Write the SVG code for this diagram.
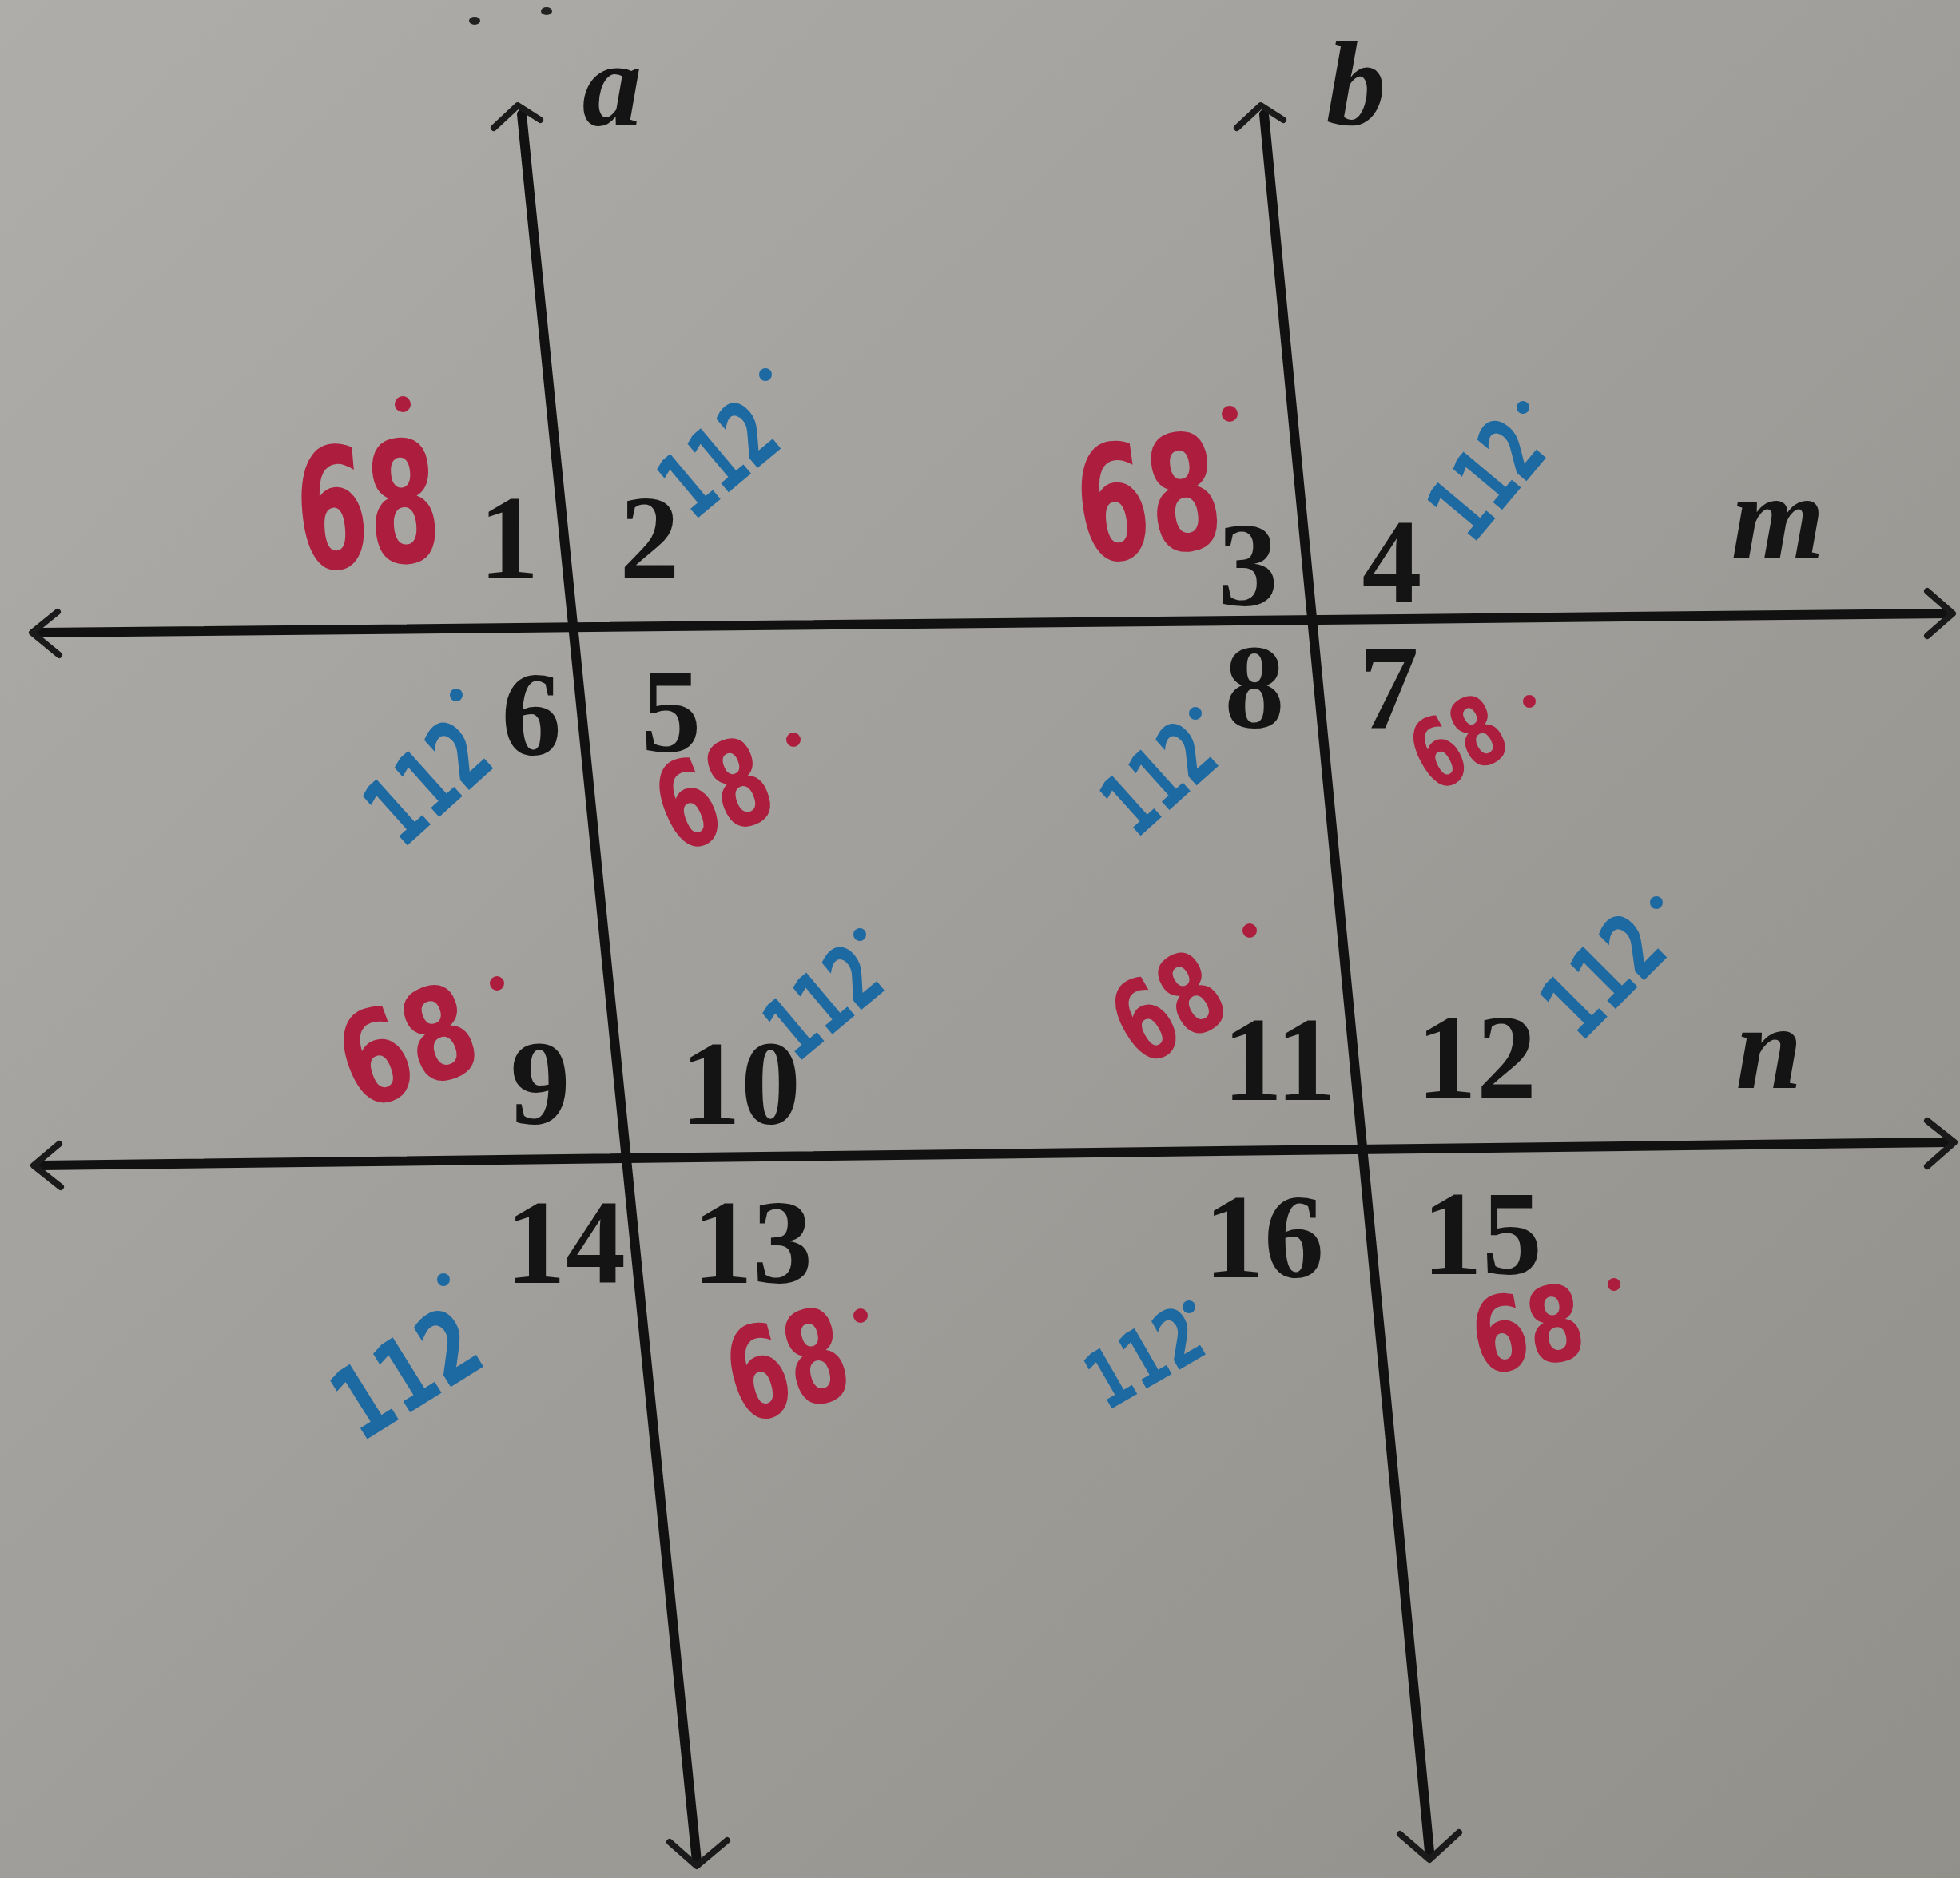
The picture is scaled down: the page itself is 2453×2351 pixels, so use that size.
<svg xmlns="http://www.w3.org/2000/svg" width="2453" height="2351" viewBox="0 0 2453 2351">
<defs>
<linearGradient id="bg" x1="0" y1="0" x2="1" y2="1">
<stop offset="0" stop-color="#afada9"/>
<stop offset="0.5" stop-color="#a09e9a"/>
<stop offset="1" stop-color="#92908b"/>
</linearGradient>
<style>
.ln{stroke:#111;stroke-width:12;fill:none;stroke-linecap:round}
.ah{stroke:#1a1a1a;stroke-width:8;fill:none;stroke-linecap:round;stroke-linejoin:round}
.num{font-family:"Liberation Serif",serif;font-weight:bold;font-size:150px;fill:#141414;text-anchor:middle}
.var{font-family:"Liberation Serif",serif;font-weight:bold;font-style:italic;font-size:150px;fill:#141414;text-anchor:middle}
.red{font-family:"DejaVu Sans",sans-serif;font-weight:bold;fill:#ad1d3d;text-anchor:middle;dominant-baseline:central}
.blue{font-family:"DejaVu Sans",sans-serif;font-weight:bold;fill:#1d6aa2;text-anchor:middle;dominant-baseline:central}
.rd{fill:#ad1d3d}
.bd{fill:#1d6aa2}
</style>
</defs>
<rect x="0" y="0" width="2453" height="2351" fill="url(#bg)"/>

<g id="connectors">
<line id="line-a" class="ln" x1="653" y1="143" x2="872" y2="2330"/>
<line id="line-b" class="ln" x1="1582" y1="143" x2="1789" y2="2318"/>
<line id="line-m" class="ln" x1="50" y1="792" x2="2440" y2="768"/>
<line id="line-n" class="ln" x1="50" y1="1459" x2="2440" y2="1430"/>
<polyline class="ah" points="618,160 648,132 676,150"/>
<polyline class="ah" points="1548,160 1578,132 1606,150"/>
<polyline class="ah" points="838,2306 872,2336 910,2304"/>
<polyline class="ah" points="1752,2296 1789,2328 1826,2294"/>
<polyline class="ah" points="72,766 40,792 74,820"/>
<polyline class="ah" points="2412,740 2444,768 2412,796"/>
<polyline class="ah" points="74,1432 42,1459 76,1486"/>
<polyline class="ah" points="2412,1403 2446,1430 2412,1460"/>
<ellipse cx="594" cy="26" rx="7" ry="5" fill="#222"/>
<ellipse cx="684" cy="14" rx="7" ry="5" fill="#222"/>
</g>

<g id="line-labels">
<text class="var" x="766" y="156">a</text>
<text class="var" x="1697" y="156">b</text>
<text class="var" x="2225" y="698">m</text>
<text class="var" x="2214" y="1362">n</text>
</g>

<g id="angle-numbers">
<text id="n1" class="num" x="637" y="724">1</text>
<text id="n2" class="num" x="813" y="724">2</text>
<text id="n3" class="num" x="1562" y="758">3</text>
<text id="n4" class="num" x="1742" y="754">4</text>
<text id="n6" class="num" x="665" y="945">6</text>
<text id="n5" class="num" x="840" y="941">5</text>
<text id="n8" class="num" x="1570" y="911">8</text>
<text id="n7" class="num" x="1738" y="911">7</text>
<text id="n9" class="num" x="676" y="1407">9</text>
<text id="n10" class="num" x="927" y="1407">10</text>
<text id="n11" class="num" x="1601" y="1377">11</text>
<text id="n12" class="num" x="1848" y="1374">12</text>
<text id="n14" class="num" x="708" y="1606">14</text>
<text id="n13" class="num" x="942" y="1606">13</text>
<text id="n16" class="num" x="1582" y="1599">16</text>
<text id="n15" class="num" x="1855" y="1595">15</text>
</g>

<g id="measures">
<g id="m1"><text class="red" font-size="210" textLength="180" lengthAdjust="spacingAndGlyphs" transform="translate(460,635) rotate(-5)">68</text><circle class="rd" cx="504" cy="506" r="10"/></g>
<g id="m2"><text class="blue" font-size="115" textLength="150" lengthAdjust="spacingAndGlyphs" transform="translate(899,575) rotate(-40)">112</text><circle class="bd" cx="958" cy="469" r="8"/></g>
<g id="m6"><text class="blue" font-size="120" textLength="160" lengthAdjust="spacingAndGlyphs" transform="translate(535,980) rotate(-42)">112</text><circle class="bd" cx="571" cy="870" r="8"/></g>
<g id="m5"><text class="red" font-size="150" textLength="140" lengthAdjust="spacingAndGlyphs" transform="translate(893,995) rotate(-22)">68</text><circle class="rd" cx="993" cy="926" r="9"/></g>
<g id="m3"><text class="red" font-size="200" textLength="180" lengthAdjust="spacingAndGlyphs" transform="translate(1437,625) rotate(-8)">68</text><circle class="rd" cx="1539" cy="518" r="10"/></g>
<g id="m4"><text class="blue" font-size="115" textLength="150" lengthAdjust="spacingAndGlyphs" transform="translate(1860,600) rotate(-50)">112</text><circle class="bd" cx="1906" cy="510" r="8"/></g>
<g id="m8"><text class="blue" font-size="110" textLength="145" lengthAdjust="spacingAndGlyphs" transform="translate(1450,975) rotate(-42)">112</text><circle class="bd" cx="1496" cy="893" r="8"/></g>
<g id="m7"><text class="red" font-size="120" textLength="115" lengthAdjust="spacingAndGlyphs" transform="translate(1825,930) rotate(-28)">68</text><circle class="rd" cx="1914" cy="878" r="8"/></g>
<g id="m9"><text class="red" font-size="160" textLength="170" lengthAdjust="spacingAndGlyphs" transform="translate(510,1310) rotate(-20)">68</text><circle class="rd" cx="622" cy="1231" r="9"/></g>
<g id="m10"><text class="blue" font-size="110" textLength="150" lengthAdjust="spacingAndGlyphs" transform="translate(1030,1255) rotate(-40)">112</text><circle class="bd" cx="1076" cy="1170" r="8"/></g>
<g id="m14"><text class="blue" font-size="125" textLength="190" lengthAdjust="spacingAndGlyphs" transform="translate(508,1720) rotate(-32)">112</text><circle class="bd" cx="555" cy="1602" r="8"/></g>
<g id="m13"><text class="red" font-size="160" textLength="150" lengthAdjust="spacingAndGlyphs" transform="translate(985,1710) rotate(-15)">68</text><circle class="rd" cx="1077" cy="1647" r="9"/></g>
<g id="m11"><text class="red" font-size="140" textLength="135" lengthAdjust="spacingAndGlyphs" transform="translate(1462,1262) rotate(-30)">68</text><circle class="rd" cx="1564" cy="1165" r="9"/></g>
<g id="m12"><text class="blue" font-size="115" textLength="160" lengthAdjust="spacingAndGlyphs" transform="translate(2006,1222) rotate(-45)">112</text><circle class="bd" cx="2073" cy="1130" r="8"/></g>
<g id="m16"><text class="blue" font-size="100" textLength="150" lengthAdjust="spacingAndGlyphs" transform="translate(1432,1700) rotate(-30)">112</text><circle class="bd" cx="1488" cy="1636" r="8"/></g>
<g id="m15"><text class="red" font-size="130" textLength="140" lengthAdjust="spacingAndGlyphs" transform="translate(1912,1665) rotate(-10)">68</text><circle class="rd" cx="2020" cy="1608" r="8"/></g>
</g>
</svg>
